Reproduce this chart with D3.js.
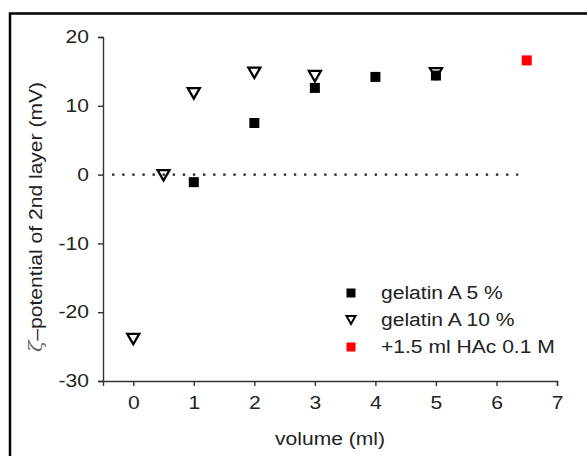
<!DOCTYPE html>
<html>
<head>
<meta charset="utf-8">
<script src="https://cdn.jsdelivr.net/npm/d3@7"></script>
<style>
  html, body { margin: 0; padding: 0; background: #fff; }
  svg { display: block; font-family: "Liberation Sans", Arial, sans-serif; }
</style>
</head>
<body>
<svg id="chart" width="587" height="456"></svg>
<script>
// Zeta potential of the second layer vs. added gelatin volume
const volume5 = [1, 2, 3, 4, 5];
const zeta5 = [-1.1, 7.5, 12.6, 14.2, 14.4];

const volume10 = [0, 0.5, 1, 2, 3, 5];
const zeta10 = [-23.9, -0.1, 11.8, 14.8, 14.3, 14.7];

const volumeHAc = [6.5];
const zetaHAc = [16.6];

const xTicks = [0, 1, 2, 3, 4, 5, 6, 7];
const yTicks = [-30, -20, -10, 0, 10, 20];
const legendLabels = ["gelatin A 5 %", "gelatin A 10 %", "+1.5 ml HAc 0.1 M"];

const svg = d3.select("#chart");
const axisColor = "#333";
const plainInt = d => String(d);   // ASCII hyphen for negatives

// outer frame (left and top edges visible)
svg.append("path")
  .attr("d", "M10,470 L10,13.5 L600,13.5")
  .attr("fill", "none").attr("stroke", "#000").attr("stroke-width", 2.5);

const x = d3.scaleLinear().domain([-0.5, 7]).range([103, 557]);
const y = d3.scaleLinear().domain([-30, 20]).range([381, 37]);

// zero reference line
svg.append("line")
  .attr("x1", x(-0.35)).attr("x2", x(6.36))
  .attr("y1", y(0)).attr("y2", y(0))
  .attr("stroke", "#222").attr("stroke-width", 2.2)
  .attr("stroke-dasharray", "2.4,7.7");

// x axis
const xAxisG = svg.append("g").attr("transform", `translate(0,${y(-30)})`);
xAxisG.call(d3.axisBottom(x).tickValues(d3.range(-0.5, 7.01, 0.5)).tickSize(3).tickFormat(""));
xAxisG.call(d3.axisBottom(x).tickValues(xTicks).tickSize(5).tickPadding(9).tickFormat(plainInt));
xAxisG.selectAll("path.domain").attr("stroke", axisColor).attr("stroke-width", 1.4);
xAxisG.selectAll("line").attr("stroke", axisColor).attr("stroke-width", 1.4);

// y axis
const yAxisG = svg.append("g").attr("transform", `translate(${x(-0.5)},0)`);
yAxisG.call(d3.axisLeft(y).tickValues(d3.range(-25, 20, 10)).tickSize(3).tickFormat(""));
yAxisG.call(d3.axisLeft(y).tickValues(yTicks).tickSize(5).tickPadding(9).tickFormat(plainInt));
yAxisG.selectAll("path.domain").attr("stroke", axisColor).attr("stroke-width", 1.4);
yAxisG.selectAll("line").attr("stroke", axisColor).attr("stroke-width", 1.4);

svg.selectAll("g.tick text")
  .attr("font-size", 18).attr("font-family", "Liberation Sans, Arial, sans-serif")
  .attr("fill", "#222");
xAxisG.selectAll("g.tick text").attr("dy", "0.75em");

// axis titles
svg.append("text")
  .attr("x", x(3.25)).attr("y", 445)
  .attr("text-anchor", "middle").attr("font-size", 18).attr("fill", "#222")
  .text("volume (ml)");

const yTitle = svg.append("text")
  .attr("transform", "translate(42,217) rotate(-90)")
  .attr("text-anchor", "middle").attr("font-size", 18).attr("fill", "#222");
yTitle.append("tspan").attr("fill", "#666").attr("font-style", "italic").attr("font-family", "DejaVu Serif, serif").text("ζ");
yTitle.append("tspan").text("–potential of 2nd layer (mV)");

// marker shapes
const sq = 10;
function triPath(cx, cy, w, h) {
  return `M${cx - w / 2},${cy - h / 2} L${cx + w / 2},${cy - h / 2} L${cx},${cy + h / 2} Z`;
}

// gelatin A 5 % (filled squares)
svg.append("g").selectAll("rect")
  .data(d3.zip(volume5, zeta5)).join("rect")
  .attr("x", d => x(d[0]) - sq / 2).attr("y", d => y(d[1]) - sq / 2)
  .attr("width", sq).attr("height", sq).attr("fill", "#000");

// gelatin A 10 % (open down-triangles)
svg.append("g").selectAll("path")
  .data(d3.zip(volume10, zeta10)).join("path")
  .attr("d", d => triPath(x(d[0]), y(d[1]), 12, 10.5))
  .attr("fill", "none").attr("stroke", "#000").attr("stroke-width", 2.3)
  .attr("stroke-linejoin", "miter");

// + HAc (red square)
svg.append("g").selectAll("rect")
  .data(d3.zip(volumeHAc, zetaHAc)).join("rect")
  .attr("x", d => x(d[0]) - sq / 2).attr("y", d => y(d[1]) - sq / 2)
  .attr("width", sq).attr("height", sq).attr("fill", "#ff0000");

// legend
const legend = svg.append("g");
const legX = 351, legY0 = 293, legDY = 27;
legendLabels.forEach((label, i) => {
  const cy = legY0 + i * legDY;
  if (i === 0) {
    legend.append("rect").attr("x", legX - 4.5).attr("y", cy - 4.5).attr("width", 9).attr("height", 9).attr("fill", "#000");
  } else if (i === 1) {
    legend.append("path").attr("d", triPath(legX, cy, 9, 8)).attr("fill", "none").attr("stroke", "#000").attr("stroke-width", 2);
  } else {
    legend.append("rect").attr("x", legX - 4.5).attr("y", cy - 4.5).attr("width", 9).attr("height", 9).attr("fill", "#ff0000");
  }
  legend.append("text")
    .attr("x", 381).attr("y", cy).attr("dy", "0.35em")
    .attr("font-size", 18).attr("fill", "#222").text(label);
});

// widen the lettering slightly to the chart's typeface proportions
svg.selectAll("text").each(function () {
  const len = this.getComputedTextLength();
  if (len > 0) {
    d3.select(this).attr("textLength", len * 1.17).attr("lengthAdjust", "spacingAndGlyphs");
  }
});
</script>
</body>
</html>
